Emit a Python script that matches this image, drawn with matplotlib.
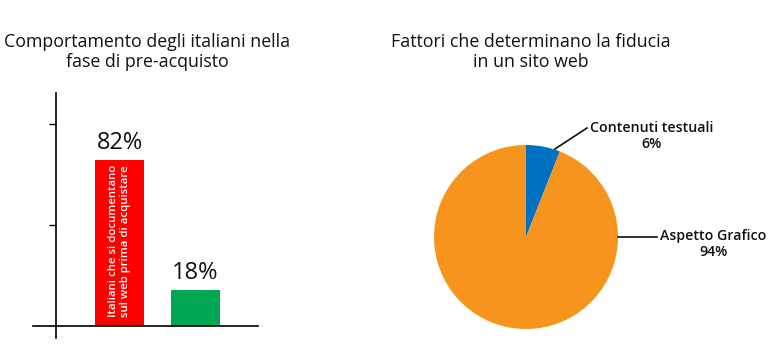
import matplotlib
matplotlib.use("Agg")
import matplotlib.pyplot as plt

plt.rcParams['font.family'] = ['Open Sans', 'DejaVu Sans']

# Data
bar_categories = ["Italiani che si documentano\nsul web prima di acquistare", "Altri"]
bar_values = [82, 18]
bar_labels = ["82%", "18%"]
bar_colors = ["#FF0000", "#00A651"]

pie_labels = ["Contenuti testuali", "Aspetto Grafico"]
pie_values = [6, 94]
pie_colors = ["#0070C0", "#F7941D"]

title_left = "Comportamento degli italiani nella\nfase di pre-acquisto"
title_right = "Fattori che determinano la fiducia\nin un sito web"

W, H = 770, 350
fig = plt.figure(figsize=(W / 100, H / 100), dpi=100)

# ---------- Bar chart ----------
ax1 = fig.add_axes([33 / W, 1 - 338 / H, (258 - 33) / W, (338 - 93) / H])
x = list(range(len(bar_values)))
ax1.bar(x, bar_values, width=0.645, color=bar_colors)
ax1.set_xlim(-1.138, 1.822)
ax1.set_ylim(-5.94, 115.3)
for s in ['top', 'right']:
    ax1.spines[s].set_visible(False)
ax1.spines['left'].set_position(('data', -0.836))
ax1.spines['bottom'].set_position(('data', 0))
ax1.spines['left'].set_linewidth(1.2)
ax1.spines['bottom'].set_linewidth(1.2)
ax1.set_xticks([])
ax1.set_yticks([50, 100])
ax1.set_yticklabels([])
ax1.tick_params(axis='y', length=5, width=1)
for xi, v, lab in zip(x, bar_values, bar_labels):
    ax1.text(xi, v + 2.5, lab, ha='center', va='bottom', fontsize=17, color='#111111')
ax1.text(0, 4.5, bar_categories[0], rotation=90, ha='center', va='bottom',
         multialignment='left', color='white', fontsize=8.2, fontweight='semibold',
         linespacing=1.2)

fig.text(147 / W, 1 - 52 / H, title_left, ha='center', va='center', fontsize=12.8,
         fontweight='medium', color='#111111', linespacing=1.12)

# ---------- Pie chart ----------
r = 92
ax2 = fig.add_axes([(526 - r) / W, 1 - (237 + r) / H, 2 * r / W, 2 * r / H])
ax2.pie(pie_values, colors=pie_colors, startangle=90, counterclock=False,
        radius=1, wedgeprops=dict(linewidth=0))
ax2.set_xlim(-1, 1)
ax2.set_ylim(-1, 1)
ax2.set_aspect('auto')
ax2.axis('off')

ax2.plot([0.315, 0.663], [0.957, 1.185], color='#111111', lw=1.2, clip_on=False)
ax2.text(1.37, 1.098, f"{pie_labels[0]}\n{pie_values[0]}%", ha='center', va='center',
         fontsize=10.2, fontweight='semibold', color='#111111', linespacing=1.1)
ax2.plot([1.0, 1.424], [0.0, 0.0], color='#111111', lw=1.2, clip_on=False)
ax2.text(2.04, -0.076, f"{pie_labels[1]}\n{pie_values[1]}%", ha='center', va='center',
         fontsize=10.2, fontweight='semibold', color='#111111', linespacing=1.1)

fig.text(531 / W, 1 - 52 / H, title_right, ha='center', va='center', fontsize=12.8,
         fontweight='medium', color='#111111', linespacing=1.12)

fig.savefig("out.png", dpi=100)
